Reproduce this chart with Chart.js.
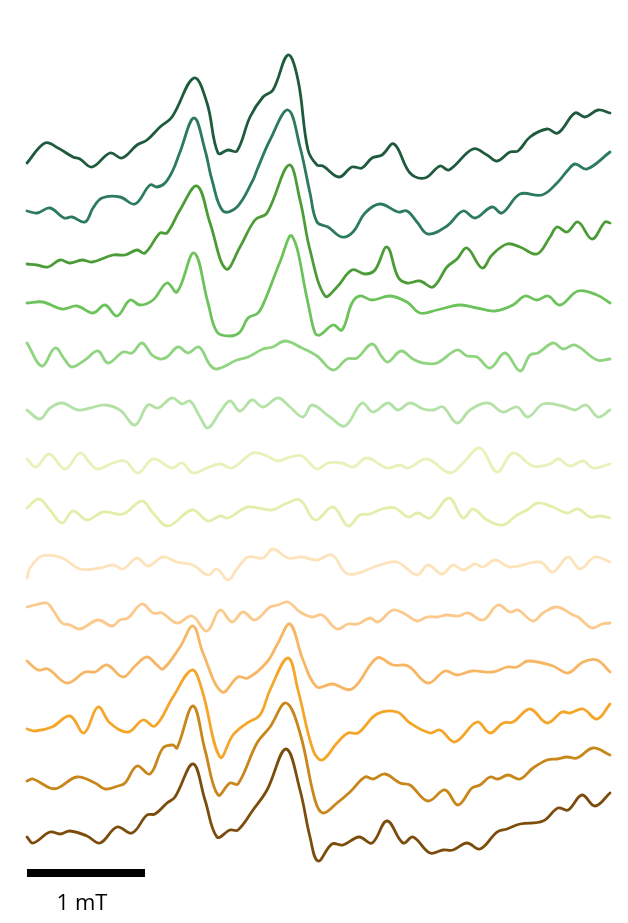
<!DOCTYPE html>
<html>
<head>
<meta charset="utf-8">
<script src="https://cdn.jsdelivr.net/npm/chart.js@4/dist/chart.umd.min.js"></script>
<style>
html,body{margin:0;padding:0;background:#fff;}
#wrap{width:628px;height:923px;position:relative;}
</style>
</head>
<body>
<div id="wrap"><canvas id="c" width="628" height="923"></canvas></div>
<script>
// Spectra: [channel, signal (a.u.)] ; 118 channels = 1 mT
const CHANNELS_PER_MT = 118;
const N_CHANNELS = 583;
const scaleBarLabel = "1 mT";

const trace1 = [[0,0],[18,20],[31,15],[46,6],[53,4],[65,-4],[83,10],[95,5],[110,18],[120,23],[133,36],[145,46],[167,85],[180,60],[191,10],[201,13],[210,12],[223,46],[236,66],[246,73],[261,108],[271,83],[281,13],[290,-2],[296,-3],[312,-14],[325,-4],[335,-5],[345,5],[355,8],[367,19],[383,-10],[398,-15],[413,-3],[422,-7],[446,14],[460,8],[470,2],[483,11],[491,12],[503,26],[520,34],[531,30],[548,50],[558,46],[571,53],[583,50]];
const trace2 = [[0,0],[10,-2],[23,3],[37,-7],[45,-6],[58,-11],[66,3],[75,13],[93,14],[108,7],[123,26],[130,24],[138,28],[146,41],[153,59],[167,93],[178,61],[185,31],[196,0],[210,4],[226,31],[230,41],[243,71],[261,101],[273,64],[283,18],[290,-11],[301,-16],[315,-26],[326,-21],[338,-2],[353,7],[371,-1],[380,0],[390,-11],[401,-23],[420,-15],[436,0],[448,-7],[465,4],[475,-2],[493,17],[515,16],[530,28],[541,41],[548,47],[560,42],[583,59]];
const trace3 = [[0,0],[10,-1],[21,-3],[33,4],[43,1],[55,4],[65,2],[86,9],[98,9],[110,14],[118,11],[133,31],[140,31],[153,54],[170,78],[183,41],[199,-5],[213,17],[228,44],[240,51],[262,99],[273,64],[283,14],[298,-32],[310,-23],[325,-6],[338,-10],[348,-6],[360,17],[371,-13],[380,-19],[393,-17],[406,-23],[420,-3],[430,5],[440,16],[455,-4],[465,9],[480,20],[493,17],[510,10],[523,27],[530,37],[540,32],[551,42],[565,25],[578,42],[583,41]];
const trace4 = [[0,0],[16,1],[35,-6],[50,-3],[66,-10],[78,-2],[90,-13],[103,3],[113,-2],[126,3],[140,20],[150,11],[167,50],[181,0],[190,-29],[203,-33],[213,-29],[221,-15],[231,-10],[238,3],[253,41],[265,67],[281,0],[288,-30],[293,-32],[306,-22],[315,-27],[325,0],[333,7],[345,3],[363,7],[380,1],[393,-10],[410,-7],[433,-2],[450,-5],[468,-8],[486,-2],[498,7],[510,3],[521,7],[533,-2],[551,12],[570,8],[583,0]];
const trace5 = [[0,0],[15,-23],[28,-5],[38,-17],[45,-24],[58,-17],[71,-8],[81,-20],[96,-9],[105,-10],[115,0],[125,-12],[133,-16],[140,-14],[151,-4],[161,-10],[172,-4],[183,-22],[190,-26],[210,-17],[221,-14],[236,-6],[246,-4],[258,2],[275,-5],[290,-13],[306,-27],[320,-16],[330,-15],[345,-1],[355,-14],[361,-19],[374,-8],[386,-16],[396,-20],[410,-20],[430,-7],[440,-13],[450,-14],[463,-25],[478,-10],[493,-28],[503,-12],[511,-10],[526,0],[536,-6],[548,-2],[570,-17],[583,-16]];
const trace6 = [[0,0],[13,-9],[23,2],[35,7],[51,0],[63,2],[78,5],[93,0],[108,-15],[121,5],[131,2],[145,12],[155,6],[163,9],[173,-7],[181,-18],[193,-2],[203,9],[213,-1],[225,10],[236,3],[251,12],[263,3],[276,-7],[285,5],[303,-7],[318,-16],[335,7],[346,-2],[361,7],[371,0],[383,7],[396,1],[406,0],[416,3],[430,-13],[443,0],[461,7],[476,-2],[490,3],[501,-7],[516,6],[536,4],[548,0],[559,5],[571,-7],[583,0]];
const trace7 = [[0,0],[9,-8],[22,5],[38,-10],[53,6],[63,-4],[70,-10],[86,-4],[98,-2],[111,-14],[126,0],[145,-9],[155,-4],[166,-14],[180,-9],[193,-5],[205,-9],[226,6],[240,3],[251,-2],[263,2],[275,3],[290,-10],[301,-4],[315,-4],[326,-8],[340,1],[360,-9],[373,-6],[381,-9],[400,0],[423,-14],[436,-4],[453,11],[470,-13],[486,6],[506,-7],[523,-5],[531,0],[543,-7],[556,-2],[566,-9],[583,-5]];
const trace8 = [[0,0],[12,9],[23,-2],[35,-15],[46,-3],[60,-12],[76,-4],[96,-6],[115,7],[126,-5],[141,-18],[165,-2],[181,-13],[193,-8],[201,-10],[221,1],[245,-2],[258,4],[273,8],[288,-12],[306,1],[321,-18],[333,-7],[343,-6],[355,-1],[368,0],[381,-9],[391,-5],[403,-10],[422,10],[436,-10],[446,-1],[460,-12],[476,-17],[490,-7],[500,-2],[511,5],[526,1],[540,-5],[551,-1],[563,-9],[573,-8],[583,-10]];
const trace9 = [[0,0],[3,10],[15,22],[35,20],[53,9],[73,10],[86,13],[96,9],[110,20],[121,12],[136,21],[150,16],[166,13],[181,3],[190,9],[201,-2],[210,9],[221,21],[236,20],[246,29],[261,20],[275,21],[290,18],[305,23],[321,4],[353,13],[370,16],[390,3],[401,13],[415,4],[426,13],[436,8],[448,14],[456,11],[468,18],[483,11],[513,16],[526,6],[541,21],[553,9],[568,21],[583,16]];
const trace10 = [[0,0],[8,2],[20,4],[26,-3],[35,-16],[43,-18],[53,-22],[71,-13],[85,-19],[93,-13],[101,-11],[115,3],[126,-6],[135,-6],[150,-16],[165,-9],[180,-24],[193,-3],[205,-15],[216,-5],[228,-13],[243,0],[251,2],[261,5],[273,-5],[285,-10],[295,-8],[310,-22],[321,-17],[331,-17],[343,-11],[351,-15],[366,-3],[378,-7],[390,-14],[400,-10],[410,-10],[420,-8],[431,-9],[441,-6],[456,-13],[471,2],[483,-5],[491,-3],[506,-14],[516,-6],[530,0],[546,-8],[551,-10],[565,-21],[575,-17],[583,-16]];
const trace11 = [[0,0],[11,-9],[21,-8],[40,-22],[58,-11],[68,-11],[80,-4],[96,-16],[108,-5],[120,4],[130,-4],[136,-8],[153,14],[166,35],[176,8],[195,-31],[211,-16],[221,-17],[240,-1],[251,18],[263,37],[276,1],[290,-26],[305,-23],[325,-28],[350,3],[366,-4],[381,-5],[401,-22],[418,-10],[430,-14],[445,-10],[466,-11],[480,-6],[490,-6],[501,0],[526,-5],[541,-12],[556,-1],[570,1],[583,-11]];
const trace12 = [[0,0],[8,-2],[25,2],[43,13],[57,-4],[71,22],[83,6],[101,-3],[116,9],[128,3],[146,32],[165,59],[175,39],[193,-28],[206,-6],[220,6],[233,14],[243,39],[261,71],[271,39],[286,-21],[295,-31],[310,-14],[321,-4],[331,-4],[350,15],[370,17],[383,6],[403,-4],[413,-1],[428,-13],[450,7],[463,-4],[476,6],[486,7],[503,20],[520,6],[535,17],[543,16],[556,20],[570,10],[583,25]];
const trace13 = [[0,0],[6,2],[23,-7],[31,-7],[50,4],[68,-2],[78,-8],[91,-5],[98,-2],[110,15],[123,7],[136,33],[146,36],[150,33],[166,75],[178,31],[191,-14],[203,-2],[211,-3],[230,38],[243,54],[259,78],[273,48],[288,-19],[296,-32],[310,-22],[323,-11],[338,4],[346,2],[358,7],[373,-2],[383,-4],[401,-20],[418,-9],[431,-24],[445,-7],[453,-4],[463,4],[471,2],[481,6],[493,2],[506,13],[520,21],[530,22],[540,24],[550,23],[566,33],[583,26]];
const trace14 = [[0,0],[6,-6],[23,5],[33,3],[43,6],[60,1],[73,-6],[90,10],[105,4],[120,22],[128,23],[140,34],[148,40],[166,73],[178,37],[190,0],[203,7],[211,7],[226,27],[240,47],[259,88],[273,47],[283,0],[291,-24],[305,-7],[316,-8],[332,0],[345,-6],[360,16],[376,-6],[386,0],[403,-16],[416,-13],[426,-13],[440,-6],[453,-12],[470,5],[480,8],[493,13],[516,16],[531,29],[541,27],[555,42],[568,31],[583,44]];

const traces = [trace1,trace2,trace3,trace4,trace5,trace6,trace7,trace8,trace9,trace10,trace11,trace12,trace13,trace14];
// vertical stacking offsets (a.u.)
const offsets = [760,712,659,620,580,513,464,415,345,316,262,194,142,86];
const scaleBarLevel = 50;

const colors = ["#1e5a3c","#2c7b5c","#4b9c36","#6dc35b","#90d480","#b4e2a6","#e7f2b8","#e1efab","#fde3bc","#fbc98b","#f7b663","#f5a629","#c8861b","#7b4c0c"];

const datasets = traces.map((t,i)=>({
  data: t.map(p=>({x:p[0], y:p[1]+offsets[i]})),
  borderColor: colors[i],
  borderWidth: 2.8,
  pointRadius: 0,
  tension: 0.38,
  borderJoinStyle: 'round',
  borderCapStyle: 'round',
  fill: false,
  clip: false,
  order: i
}));
datasets.push({
  data: [{x:0,y:scaleBarLevel},{x:CHANNELS_PER_MT,y:scaleBarLevel}],
  borderColor:"#000",
  borderWidth:8,
  borderCapStyle:'butt',
  pointRadius:0,
  clip:false,
  tension:0
});

const labelPlugin = {
  id:'scaleLabel',
  afterDatasetsDraw(chart){
    const {ctx, scales:{x,y}} = chart;
    const cx = x.getPixelForValue(CHANNELS_PER_MT/2) - 4;
    const cy = y.getPixelForValue(scaleBarLevel);
    ctx.save();
    ctx.fillStyle="#000";
    ctx.font = "22px 'Open Sans', 'Noto Sans', sans-serif";
    ctx.textAlign="center";
    ctx.textBaseline="alphabetic";
    ctx.fillText(scaleBarLabel, cx, cy + 37);
    ctx.restore();
  }
};

new Chart(document.getElementById('c'), {
  type:'line',
  data:{datasets},
  options:{
    responsive:false,
    animation:false,
    layout:{padding:{left:27,right:18,top:0,bottom:0}},
    plugins:{legend:{display:false},tooltip:{enabled:false}},
    scales:{
      x:{type:'linear',min:0,max:N_CHANNELS,display:false},
      y:{type:'linear',min:0,max:923,display:false}
    }
  },
  plugins:[labelPlugin]
});
</script>
</body>
</html>
